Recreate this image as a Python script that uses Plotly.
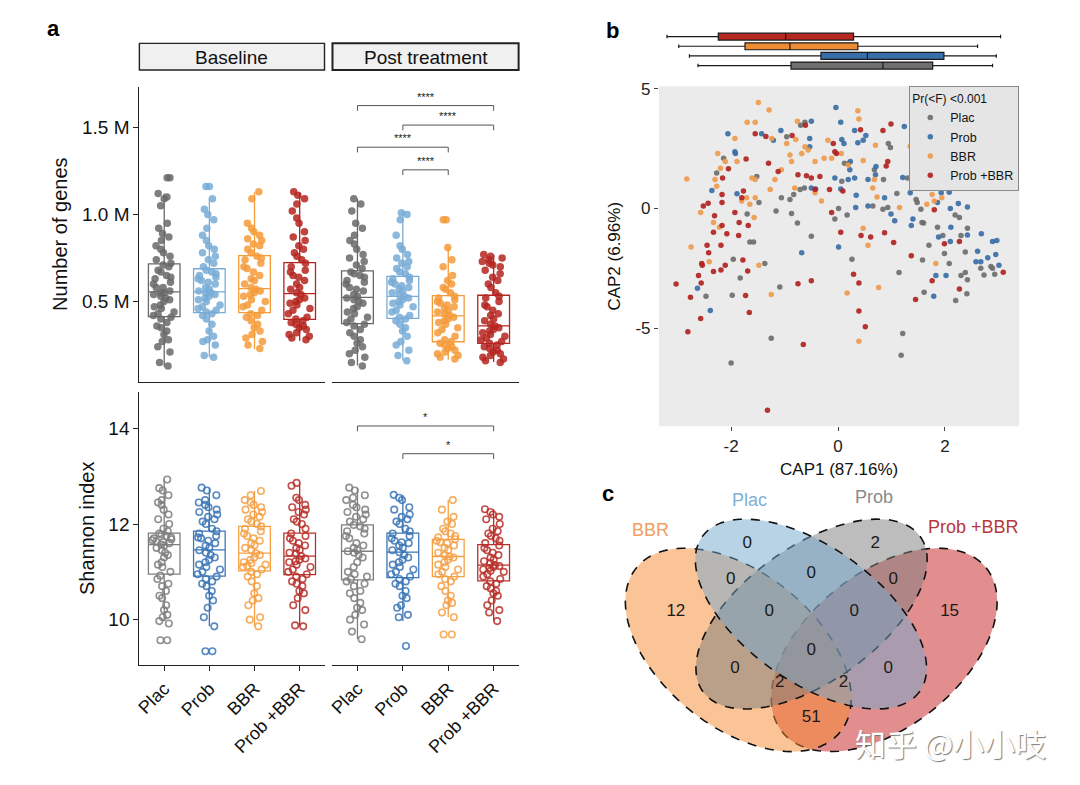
import numpy as np
import plotly.graph_objects as go

W, H = 1080, 785
def fx(p): return p / W
def fy(p): return 1 - p / H

FONT = "Liberation Sans, Arial, Helvetica, sans-serif"
groups = ["Plac", "Prob", "BBR", "Prob +BBR"]

# ---------------- panel a : Number of genes (M) ----------------
genes_base = [
    [0.13,0.15,0.21,0.24,0.27,0.28,0.31,0.33,0.35,0.36,0.38,0.40,0.41,0.42,0.43,0.44,0.46,0.47,0.48,0.50,0.51,0.52,0.53,0.54,0.55,0.55,
     0.56,0.58,0.58,0.60,0.61,0.63,0.64,0.65,0.67,0.68,0.70,0.71,0.72,0.74,0.76,0.78,0.80,0.82,0.85,0.87,0.89,0.92,0.95,1.05,1.09,1.10,1.12,1.21,1.21],
    [0.18,0.19,0.25,0.27,0.28,0.30,0.33,0.37,0.40,0.42,0.43,0.44,0.45,0.46,0.47,0.48,0.50,0.51,0.52,0.53,0.54,0.55,0.55,0.56,0.57,0.58,
     0.60,0.61,0.62,0.63,0.64,0.65,0.66,0.67,0.68,0.70,0.72,0.74,0.76,0.78,0.80,0.82,0.85,0.88,0.92,0.97,1.00,1.03,1.09,1.16,1.16],
    [0.23,0.25,0.27,0.29,0.31,0.33,0.35,0.37,0.39,0.41,0.42,0.43,0.45,0.47,0.48,0.50,0.51,0.53,0.54,0.55,0.56,0.57,0.58,0.60,0.62,0.63,
     0.65,0.67,0.69,0.70,0.72,0.74,0.75,0.76,0.78,0.80,0.82,0.83,0.85,0.86,0.88,0.90,0.92,0.95,1.09,1.13],
    [0.28,0.29,0.30,0.31,0.32,0.34,0.35,0.36,0.37,0.38,0.39,0.40,0.41,0.43,0.45,0.46,0.48,0.49,0.50,0.51,0.52,0.54,0.55,0.57,0.58,0.60,
     0.62,0.64,0.65,0.67,0.68,0.70,0.72,0.74,0.76,0.78,0.80,0.82,0.85,0.87,0.90,0.95,0.98,1.02,1.06,1.09,1.11,1.13],
]
genes_post = [
    [0.13,0.15,0.18,0.20,0.22,0.24,0.26,0.28,0.30,0.32,0.34,0.36,0.37,0.38,0.40,0.41,0.43,0.44,0.46,0.47,0.49,0.50,0.51,0.52,0.53,0.54,
     0.56,0.57,0.58,0.60,0.61,0.62,0.64,0.65,0.66,0.67,0.69,0.71,0.73,0.75,0.77,0.80,0.83,0.85,0.88,0.92,0.95,1.02,1.06,1.09],
    [0.16,0.19,0.22,0.25,0.27,0.30,0.33,0.35,0.37,0.39,0.40,0.41,0.42,0.44,0.45,0.47,0.48,0.49,0.50,0.51,0.52,0.53,0.54,0.55,0.56,0.57,
     0.58,0.59,0.60,0.61,0.62,0.63,0.64,0.66,0.67,0.69,0.70,0.72,0.73,0.75,0.77,0.80,0.82,0.88,0.97,1.00,1.01],
    [0.17,0.18,0.19,0.20,0.21,0.22,0.23,0.24,0.25,0.26,0.27,0.28,0.30,0.32,0.34,0.35,0.37,0.38,0.39,0.40,0.41,0.42,0.43,0.44,0.45,0.46,
     0.47,0.48,0.49,0.50,0.51,0.52,0.53,0.55,0.57,0.58,0.60,0.62,0.65,0.70,0.74,0.81,0.97,0.97],
    [0.15,0.16,0.17,0.18,0.19,0.20,0.21,0.22,0.23,0.24,0.25,0.26,0.27,0.28,0.29,0.30,0.31,0.32,0.33,0.34,0.35,0.36,0.37,0.39,0.40,0.42,
     0.43,0.45,0.47,0.48,0.50,0.52,0.53,0.55,0.58,0.60,0.62,0.64,0.66,0.68,0.70,0.71,0.72,0.73,0.74,0.75,0.76,0.77],
]
genes_base_q1 = [0.413, 0.436, 0.436, 0.398]
genes_base_med = [0.555, 0.555, 0.574, 0.545]
genes_base_q3 = [0.716, 0.688, 0.763, 0.723]
genes_base_lo = [0.125, 0.18, 0.227, 0.274]
genes_base_hi = [1.12, 1.09, 1.127, 1.127]
genes_post_q1 = [0.373, 0.403, 0.269, 0.26]
genes_post_med = [0.524, 0.53, 0.417, 0.36]
genes_post_q3 = [0.676, 0.644, 0.534, 0.536]
genes_post_lo = [0.133, 0.161, 0.165, 0.152]
genes_post_hi = [1.09, 1.013, 0.811, 0.767]

# ---------------- panel a : Shannon index ----------------
shannon_base = [
    [9.57,9.57,9.92,9.97,10.05,10.1,10.2,10.3,10.45,10.5,10.6,10.7,10.75,10.85,10.92,11.0,11.1,11.15,11.2,11.3,11.35,11.4,11.45,11.5,11.55,11.57,
     11.6,11.62,11.64,11.66,11.68,11.7,11.72,11.75,11.78,11.8,11.85,11.9,12.0,12.1,12.2,12.3,12.4,12.45,12.5,12.6,12.7,12.75,12.93],
    [9.34,9.34,9.86,10.05,10.25,10.4,10.5,10.6,10.7,10.75,10.8,10.85,10.9,10.95,11.0,11.05,11.1,11.15,11.2,11.25,11.3,11.35,11.4,11.45,
     11.5,11.55,11.6,11.65,11.7,11.72,11.75,11.8,11.85,11.9,12.0,12.05,12.1,12.15,12.2,12.25,12.3,12.35,12.4,12.45,12.5,12.6,12.7,12.76],
    [9.86,10.0,10.05,10.3,10.4,10.45,10.55,10.7,10.8,10.9,10.95,11.0,11.05,11.1,11.12,11.15,11.18,11.2,11.25,11.3,11.35,11.39,
     11.45,11.5,11.55,11.6,11.65,11.7,11.75,11.8,11.85,11.9,11.95,12.0,12.05,12.1,12.15,12.2,12.25,12.3,12.35,12.4,12.45,12.5,12.6,12.69],
    [9.86,9.88,10.2,10.3,10.45,10.55,10.6,10.7,10.75,10.8,10.85,10.9,10.95,11.0,11.05,11.1,11.15,11.2,11.22,11.25,11.28,11.33,
     11.38,11.4,11.45,11.5,11.55,11.6,11.65,11.7,11.75,11.8,11.9,12.0,12.05,12.1,12.2,12.25,12.3,12.35,12.4,12.5,12.55,12.8,12.86],
]
shannon_post = [
    [9.59,9.75,9.9,10.0,10.1,10.2,10.25,10.35,10.45,10.55,10.6,10.7,10.75,10.8,10.85,10.9,10.95,11.0,11.1,11.2,11.3,11.35,11.4,11.43,
     11.45,11.5,11.55,11.6,11.7,11.75,11.8,11.85,11.9,11.95,11.98,12.05,12.1,12.15,12.2,12.25,12.3,12.35,12.4,12.5,12.55,12.6,12.7,12.76],
    [9.45,10.05,10.1,10.25,10.3,10.45,10.5,10.6,10.7,10.75,10.8,10.85,10.9,10.95,11.0,11.05,11.1,11.15,11.2,11.25,11.3,11.35,11.41,
     11.45,11.5,11.55,11.6,11.62,11.65,11.7,11.75,11.8,11.85,11.9,12.0,12.05,12.1,12.15,12.2,12.3,12.35,12.5,12.55,12.61],
    [9.69,9.69,10.05,10.15,10.3,10.35,10.4,10.5,10.6,10.7,10.8,10.85,10.9,10.95,11.0,11.05,11.1,11.15,11.2,11.25,11.3,11.32,
     11.35,11.4,11.45,11.5,11.55,11.6,11.62,11.65,11.68,11.72,11.75,11.8,11.85,11.9,12.0,12.05,12.15,12.3,12.5],
    [9.97,10.15,10.2,10.3,10.4,10.5,10.55,10.6,10.65,10.7,10.75,10.8,10.85,10.9,10.95,11.0,11.02,11.05,11.08,11.1,11.12,11.14,
     11.18,11.22,11.25,11.3,11.35,11.4,11.45,11.5,11.55,11.6,11.65,11.7,11.75,11.8,11.85,11.9,12.0,12.1,12.15,12.2,12.25,12.31],
]
shannon_base_q1 = [10.95, 10.91, 11.02, 10.94]
shannon_base_med = [11.57, 11.46, 11.39, 11.33]
shannon_base_q3 = [11.81, 11.85, 11.95, 11.81]
shannon_base_lo = [9.97, 9.86, 9.86, 9.86]
shannon_base_hi = [12.93, 12.76, 12.69, 12.86]
shannon_post_q1 = [10.83, 10.88, 10.90, 10.81]
shannon_post_med = [11.43, 11.41, 11.32, 11.14]
shannon_post_q3 = [11.98, 11.81, 11.68, 11.57]
shannon_post_lo = [9.59, 9.97, 10.05, 9.97]
shannon_post_hi = [12.76, 12.61, 12.50, 12.31]

# significance comparisons (post treatment): (group a, group b, bracket level, label)
genes_sig = [("Plac", "Prob +BBR", 1.625, "****"), ("Prob", "Prob +BBR", 1.513, "****"),
             ("Plac", "BBR", 1.386, "****"), ("Prob", "BBR", 1.256, "****")]
shannon_sig = [("Plac", "Prob +BBR", 14.05, "*"), ("Prob", "Prob +BBR", 13.47, "*")]

# ---------------- panel b : CAP ordination ----------------
plac_pts = [(-1.52,1.34),(-0.62,3.60),(-0.70,3.47),(-0.96,2.99),(-2.14,2.10),(-2.27,1.48),(-1.48,0.25),(-1.16,-0.10),(-0.76,-0.60),
    (-0.50,-1.16),(-1.06,0.45),(-0.90,0.38),(-0.83,0.59),(-0.71,0.79),(-0.63,0.86),(-0.87,-0.21),(-1.70,-0.23),(-1.65,-1.40),(-1.58,-1.40),
    (-1.96,-2.11),(-1.83,-2.90),(-1.37,-2.29),(-1.09,-3.27),(-1.98,-3.62),(-2.47,-3.66),(-1.25,-5.41),(-2.00,-6.44),(-0.06,-0.44),(0.01,0.00),
    (0.17,-0.27),(0.07,1.14),(0.26,-2.11),(0.12,1.89),(0.20,1.89),(0.68,1.62),(0.85,1.21),(0.94,2.71),(0.98,2.55),(1.10,0.63),(0.65,0.11),
    (0.84,-0.03),(0.93,0.04),(1.14,-2.67),(1.21,-5.21),(1.18,-6.12),(1.30,1.27),(1.46,0.38),(1.48,0.25),(1.55,-0.03),(1.57,-0.58),(1.60,-0.60),
    (1.70,-1.53),(1.58,-2.15),(1.61,-3.49),(1.86,-0.78),(1.96,-1.12),(1.99,-1.88),(2.08,-2.29),(2.19,-0.27),(2.27,-0.37),(2.42,-0.82),
    (2.38,-1.81),(2.30,-2.79),(2.38,-2.67),(2.42,-2.97),(2.41,-3.55),(2.20,-3.84),(2.67,-2.49),(2.73,-2.77),(2.86,-2.42),(2.93,-2.74),
    (2.89,-2.49),(2.30,-1.12)]
prob_pts = [(-0.04,4.22),(-0.50,3.64),(-2.06,3.12),(-1.07,3.26),(-1.43,3.12),(-1.21,2.85),(-1.93,2.37),(-1.92,2.30),(-2.36,0.75),(-1.89,0.62),
    (-0.53,2.92),(-0.53,2.58),(0.05,3.60),(0.07,2.88),(0.11,2.71),(0.31,3.26),(0.47,2.85),(0.37,2.74),(0.52,3.05),(1.24,3.42),(-0.50,0.86),
    (-0.42,0.82),(-0.06,1.27),(0.05,0.82),(0.19,1.21),(0.31,1.27),(0.34,0.56),(0.23,1.96),(0.22,1.62),(0.56,1.21),(0.71,1.75),(0.70,1.41),
    (0.87,0.45),(0.99,-0.23),(1.06,-0.51),(0.33,0.04),(0.56,0.11),(1.40,-0.44),(1.37,-0.71),(1.21,1.30),(1.43,1.48),(1.60,1.62),(1.65,1.21),
    (1.35,0.66),(1.86,0.25),(2.08,0.68),(2.10,0.00),(2.25,0.21),(2.42,0.07),(2.11,-0.78),(1.88,-1.19),(2.10,-1.37),(2.42,-1.10),(2.68,-1.05),
    (2.61,-1.78),(2.58,-2.22),(2.80,-2.05),(2.89,-1.37),(2.97,-1.33),(2.95,-1.92),(3.01,-2.36),(2.67,-2.22),(1.83,-2.79),(2.02,-2.79),
    (1.79,-3.66),(0.01,-1.60),(-0.68,-1.84),(-2.39,-4.25),(-2.63,-3.32),(1.93,0.66)]
bbr_pts = [(-1.49,4.42),(-1.29,4.11),(0.37,4.08),(0.39,3.74),(-1.70,3.60),(-1.55,3.60),(-0.76,3.64),(-1.93,2.92),(-2.83,1.23),(-2.25,2.30),
    (-2.11,1.96),(-1.89,1.96),(-2.20,1.68),(-2.30,1.21),(-2.27,0.93),(-2.57,-0.16),(-2.33,-0.58),(-2.22,-0.78),(-2.75,-1.60),(-2.41,-2.22),
    (-1.48,-2.36),(-1.25,-3.59),(-1.71,0.45),(-1.55,0.45),(-1.57,-0.37),(-1.65,0.18),(-1.80,0.32),(-1.61,1.27),(-1.55,1.21),(-1.27,0.79),
    (-1.18,1.21),(-1.06,1.62),(-0.96,2.71),(-0.90,2.23),(-0.68,2.30),(-0.62,2.58),(-0.56,2.44),(-0.87,1.96),(-0.43,1.96),(-0.31,0.32),
    (-0.26,2.10),(-0.19,2.85),(-0.12,2.10),(0.06,2.30),(0.19,1.82),(0.47,2.00),(0.70,2.64),(0.68,1.21),(0.65,0.86),(0.73,0.48),(0.47,-0.82),
    (0.56,-1.53),(0.76,-3.29),(0.17,-3.52),(0.39,-5.53),(1.15,0.04),(1.35,2.60),(1.66,0.18),(1.80,0.32),(1.94,0.45),(1.76,0.59),(1.83,-2.29),
    (-1.24,2.92),(-0.79,2.88),(-0.43,0.66),(-0.81,0.86)]
pb_pts = [(-0.61,3.47),(-1.55,3.12),(-1.35,3.01),(-0.86,3.05),(0.99,3.53),(0.42,3.29),(0.84,3.26),(-1.72,2.07),(-2.05,1.66),(-2.16,1.27),
    (-2.17,0.59),(-2.17,0.25),(-2.52,0.11),(-2.43,0.22),(-2.31,-0.30),(-2.17,-0.71),(-1.93,-0.16),(-1.85,-0.58),(-1.68,-0.71),(-2.08,-1.05),
    (-1.86,-1.12),(-2.33,-0.99),(-2.45,-1.53),(-2.19,-1.53),(-2.42,-1.84),(-2.55,-2.29),(-2.54,-2.36),(-2.61,-2.79),(-2.56,-3.11),(-2.76,-3.70),
    (-3.03,-3.15),(-2.33,-2.63),(-2.19,-2.56),(-2.11,-2.36),(-1.78,-2.15),(-1.69,-2.60),(-1.73,-3.63),(-1.66,-4.34),(-2.57,-4.59),(-2.81,-5.14),
    (-0.65,-5.67),(-1.32,-8.41),(-0.75,-3.14),(-0.50,-3.01),(-0.06,2.37),(-0.03,2.30),(-0.09,2.71),(-0.34,1.34),(-0.43,0.79),(-0.12,-0.16),
    (-0.16,0.79),(0.09,0.73),(0.05,-0.99),(0.43,-1.12),(0.61,-1.19),(0.87,-1.01),(1.04,-1.42),(0.29,-2.74),(0.39,-3.11),(0.39,-4.27),
    (0.51,-4.93),(0.93,1.96),(0.90,1.78),(1.37,-1.97),(1.45,-3.79),(1.80,-0.05),(1.99,-1.47),(2.27,-1.37),(1.76,-3.01),(2.27,-3.36),
    (3.09,-2.66),(-0.50,1.27),(-0.59,1.37),(-0.75,1.41),(-1.12,1.55),(-1.30,1.89),(-1.80,0.45),(-1.77,0.73)]
cap_points = [plac_pts, prob_pts, bbr_pts, pb_pts]

# marginal CAP1 box statistics
cap1_lo = [-2.62, -2.78, -2.98, -3.20]
cap1_q1 = [-0.88, -0.32, -1.74, -2.24]
cap1_med = [0.84, 0.55, -0.90, -0.98]
cap1_q3 = [1.77, 1.98, 0.37, 0.29]
cap1_hi = [2.89, 2.96, 2.61, 3.04]

# ---------------- panel c : Venn counts ----------------
venn_sets = ["BBR", "Plac", "Prob", "Prob +BBR"]
venn_counts = [0, 2, 0, 0, 0, 12, 0, 0, 15, 0, 0, 0, 2, 2, 51]

# ---------------- styles / layout constants ----------------
col_top = ["#696969", "#78acd6", "#f49b3a", "#b5241e"]
col_bot = ["#7e7e7e", "#3b76b6", "#f5a046", "#b9302a"]
col_b = ["#6e6e6e", "#3a6ea6", "#ee9a4c", "#b0231f"]
col_marg = ["#6f6f6f", "#3a6ea8", "#ee8c35", "#b5271f"]
venn_fill = ["rgba(245,137,45,0.5)", "rgba(115,167,205,0.5)", "rgba(123,123,123,0.5)", "rgba(197,30,30,0.5)"]
venn_label_col = ["#f0a060", "#7fb0d8", "#8a8a8a", "#b8373a"]
venn_geom = [(736.7, 648.7, 131.7, 77.8, 39.0), (809.7, 612.5, 134.3, 68.0, 35.6),
             (810.3, 612.5, 134.3, 68.0, -35.6), (883.3, 648.7, 131.7, 77.8, -39.0)]
venn_draw_order = [3, 0, 2, 1]
venn_count_pos = [(745.7, 541.7), (874.3, 541.7), (729, 578.3), (810, 571.7), (892.3, 578.3),
                  (674, 610.7), (767.7, 610.7), (853.3, 610.7), (949, 610.7), (810, 650),
                  (733.3, 667.3), (887.3, 667.3), (778.3, 681.7), (842.3, 681.7), (810, 717.3)]
venn_label_pos = [(648, 528), (748, 497), (873, 494), (973, 525)]
FACET_L = (135, 321)
FACET_R = (329, 516)

fig = go.Figure()

def add_facet(xa, ya, pts, q1, med, q3, lo, hi, colors, hollow):
    for i, g in enumerate(groups):
        fig.add_trace(go.Box(x=[g], q1=[q1[i]], median=[med[i]], q3=[q3[i]],
                             lowerfence=[lo[i]], upperfence=[hi[i]], orientation="v",
                             width=0.7, boxpoints=False, fillcolor="rgba(255,255,255,0)",
                             line=dict(color=colors[i], width=1.3), whiskerwidth=0,
                             xaxis=xa, yaxis=ya, showlegend=False, hoverinfo="skip"))
        if hollow:
            mk = dict(symbol="circle-open", size=6.5, color=colors[i], opacity=0.85, line=dict(width=1.6))
        else:
            mk = dict(symbol="circle", size=7.5, color=colors[i], opacity=0.85)
        fig.add_trace(go.Box(x=[g] * len(pts[i]), y=pts[i], width=0.7, boxpoints="all",
                             jitter=0.8, pointpos=0, fillcolor="rgba(0,0,0,0)",
                             line=dict(color="rgba(0,0,0,0)", width=0), marker=mk,
                             xaxis=xa, yaxis=ya, showlegend=False, hoverinfo="skip"))

add_facet("x", "y", genes_base, genes_base_q1, genes_base_med, genes_base_q3, genes_base_lo, genes_base_hi, col_top, False)
add_facet("x2", "y2", genes_post, genes_post_q1, genes_post_med, genes_post_q3, genes_post_lo, genes_post_hi, col_top, False)
add_facet("x3", "y3", shannon_base, shannon_base_q1, shannon_base_med, shannon_base_q3, shannon_base_lo, shannon_base_hi, col_bot, True)
add_facet("x4", "y4", shannon_post, shannon_post_q1, shannon_post_med, shannon_post_q3, shannon_post_lo, shannon_post_hi, col_bot, True)

for i, g in enumerate(groups):
    fig.add_trace(go.Scatter(x=[p[0] for p in cap_points[i]], y=[p[1] for p in cap_points[i]],
                             mode="markers", name=g,
                             marker=dict(color=col_b[i], size=5.5, opacity=0.92),
                             xaxis="x5", yaxis="y5", hoverinfo="skip"))

for i, g in enumerate(groups):
    fig.add_trace(go.Box(y=[g], q1=[cap1_q1[i]], median=[cap1_med[i]], q3=[cap1_q3[i]],
                         lowerfence=[cap1_lo[i]], upperfence=[cap1_hi[i]], orientation="h",
                         width=0.72, boxpoints=False, fillcolor=col_marg[i],
                         line=dict(color="#1a1a1a", width=1.2), whiskerwidth=0.5,
                         xaxis="x6", yaxis="y6", showlegend=False, hoverinfo="skip"))

fig.add_trace(go.Scatter(x=[p[0] for p in venn_count_pos], y=[p[1] for p in venn_count_pos],
                         mode="text", text=[str(c) for c in venn_counts],
                         textfont=dict(size=17, color="#1a1a1a", family=FONT),
                         xaxis="x7", yaxis="y7", showlegend=False, hoverinfo="skip"))

shapes = []
annotations = []

def note(x, y, text, size, color="#111", xref="paper", yref="paper", **kw):
    annotations.append(dict(xref=xref, yref=yref, x=x, y=y, text=text, showarrow=False,
                            xanchor="center", yanchor="middle", font=dict(size=size, color=color), **kw))

def add_brackets(xa, ya, sig, tip, star_shift):
    for a, b, yv, lab in sig:
        i0, i1 = groups.index(a), groups.index(b)
        line = dict(color="#555555", width=1)
        shapes.append(dict(type="line", xref=xa, yref=ya, x0=i0, x1=i1, y0=yv, y1=yv, line=line))
        shapes.append(dict(type="line", xref=xa, yref=ya, x0=i0, x1=i0, y0=yv, y1=yv - tip, line=line))
        shapes.append(dict(type="line", xref=xa, yref=ya, x0=i1, x1=i1, y0=yv, y1=yv - tip, line=line))
        note((i0 + i1) / 2, yv, lab, 11, "#222", xref=xa, yref=ya, yshift=star_shift)

add_brackets("x2", "y2", genes_sig, 0.03, 9)
add_brackets("x4", "y4", shannon_sig, 0.11, 9)

for (x0, x1), lw, lab in [(FACET_L, 1.4, "Baseline"), (FACET_R, 2.0, "Post treatment")]:
    shapes.append(dict(type="rect", xref="paper", yref="paper", x0=fx(x0), x1=fx(x1), y0=fy(63.5), y1=fy(36.7),
                       fillcolor="#f0f0f0", line=dict(color="#222", width=lw)))
    note(fx((x0 + x1) / 2), fy(50.5), lab, 19)

shapes.append(dict(type="rect", xref="x5 domain", yref="y5 domain", x0=0, x1=1, y0=0, y1=1,
                   fillcolor="#ebebeb", line=dict(width=0), layer="below"))

t = np.linspace(0, 2 * np.pi, 120)
for k in venn_draw_order:
    cx, cy, a, b, ang = venn_geom[k]
    th = np.deg2rad(ang)
    ex = cx + a * np.cos(t) * np.cos(th) - b * np.sin(t) * np.sin(th)
    ey = cy + a * np.cos(t) * np.sin(th) + b * np.sin(t) * np.cos(th)
    path = "M " + " L ".join(f"{u:.2f},{v:.2f}" for u, v in zip(ex, ey)) + " Z"
    shapes.append(dict(type="path", xref="x7", yref="y7", path=path, fillcolor=venn_fill[k],
                       line=dict(color="#111", width=1.6, dash="dash"), layer="below"))

for name, (lx, ly), c in zip(venn_sets, venn_label_pos, venn_label_col):
    note(fx(lx), fy(ly), name, 18, c)

for lab, (lx, ly) in [("a", (49, 22)), ("b", (610, 24)), ("c", (606, 491))]:
    note(fx(lx), fy(ly), f"<b>{lab}</b>", 22, "#000")

annotations.append(dict(xref="paper", yref="paper", x=fx(950), y=fy(742), text="知乎 @小小吱",
                        showarrow=False, xanchor="center", yanchor="middle",
                        font=dict(size=31, color="#ffffff", family="Noto Sans CJK SC",
                                  shadow="1px 1px 1px #7a7a7a")))

def axstyle(size=19, color="#111", tickcolor="#222"):
    return dict(showgrid=False, zeroline=False, linecolor="#222", linewidth=1.2, tickcolor=tickcolor,
                tickfont=dict(size=size, color=color))

cat = dict(type="category", categoryorder="array", categoryarray=groups, range=[-0.55, 3.55])
domL = [fx(FACET_L[0]), fx(FACET_L[1])]
domR = [fx(FACET_R[0]), fx(FACET_R[1])]

fig.update_layout(
    width=W, height=H, margin=dict(l=0, r=0, t=0, b=0),
    paper_bgcolor="white", plot_bgcolor="rgba(0,0,0,0)", boxmode="overlay",
    font=dict(family=FONT, color="#111"),
    xaxis=dict(**axstyle(), **cat, domain=domL, anchor="y", showline=True, ticks="", showticklabels=False),
    xaxis2=dict(**axstyle(), **cat, domain=domR, anchor="y2", showline=True, ticks="", showticklabels=False),
    yaxis=dict(**axstyle(), domain=[fy(378), fy(80.5)], anchor="x", range=[0.04, 1.733], showline=True,
               tickvals=[0.5, 1.0, 1.5], ticktext=["0.5 M", "1.0 M", "1.5 M"], ticks="outside", ticklen=5,
               title=dict(text="Number of genes", font=dict(size=20), standoff=8)),
    yaxis2=dict(**axstyle(), domain=[fy(378), fy(80.5)], anchor="x2", range=[0.04, 1.733], showline=False,
                showticklabels=False, ticks=""),
    xaxis3=dict(**axstyle(18), **cat, domain=domL, anchor="y3",
                showline=True, ticks="outside", ticklen=5, tickangle=-45),
    xaxis4=dict(**axstyle(18), **cat, domain=domR, anchor="y4",
                showline=True, ticks="outside", ticklen=5, tickangle=-45),
    yaxis3=dict(**axstyle(), domain=[fy(664), fy(388)], anchor="x3", range=[9.05, 14.77], showline=True,
                tickvals=[10, 12, 14], ticks="outside", ticklen=5,
                title=dict(text="Shannon index", font=dict(size=20), standoff=8)),
    yaxis4=dict(**axstyle(), domain=[fy(664), fy(388)], anchor="x4", range=[9.05, 14.77], showline=False,
                showticklabels=False, ticks=""),
    xaxis5=dict(**axstyle(17, "#222", "#444"), domain=[fx(657), fx(1019)], anchor="y5",
                range=[-3.35, 3.39], showline=False, tickvals=[-2, 0, 2], ticktext=["-2", "0", "2"],
                ticks="outside", ticklen=4,
                title=dict(text="CAP1 (87.16%)", font=dict(size=17), standoff=8)),
    yaxis5=dict(**axstyle(17, "#222", "#444"), domain=[fy(423), fy(80)], anchor="x5",
                range=[-9.08, 5.1], showline=False, tickvals=[-5, 0, 5], ticktext=["-5", "0", "5"],
                ticks="outside", ticklen=4,
                title=dict(text="CAP2 (6.96%)", font=dict(size=17), standoff=10)),
    xaxis6=dict(domain=[fx(657), fx(1019)], anchor="y6", range=[-3.35, 3.39], visible=False),
    yaxis6=dict(domain=[fy(64), fy(25)], anchor="x6", type="category", categoryorder="array",
                categoryarray=groups, range=[-0.5, 3.5], visible=False),
    xaxis7=dict(domain=[fx(600), 1], anchor="y7", range=[600, 1080], visible=False),
    yaxis7=dict(domain=[0, fy(470)], anchor="x7", range=[785, 470], visible=False),
    legend=dict(x=fx(1019), y=fy(80), xanchor="right", yanchor="top", bgcolor="#e5e5e5",
                bordercolor="#8a8a8a", borderwidth=1, font=dict(size=12.5, color="#111"),
                title=dict(text="Pr(<F) <0.001", font=dict(size=12)), tracegroupgap=0, itemwidth=30),
    shapes=shapes, annotations=annotations,
)

pin_page = ("var gd=document.getElementById('{plot_id}');"
            "gd.style.position='fixed';gd.style.left='0px';gd.style.top='0px';"
            "document.body.style.margin='0';document.body.style.overflow='hidden';"
            "document.documentElement.style.overflow='hidden';")
fig.write_html("out.html", config={"displayModeBar": False}, post_script=pin_page)
